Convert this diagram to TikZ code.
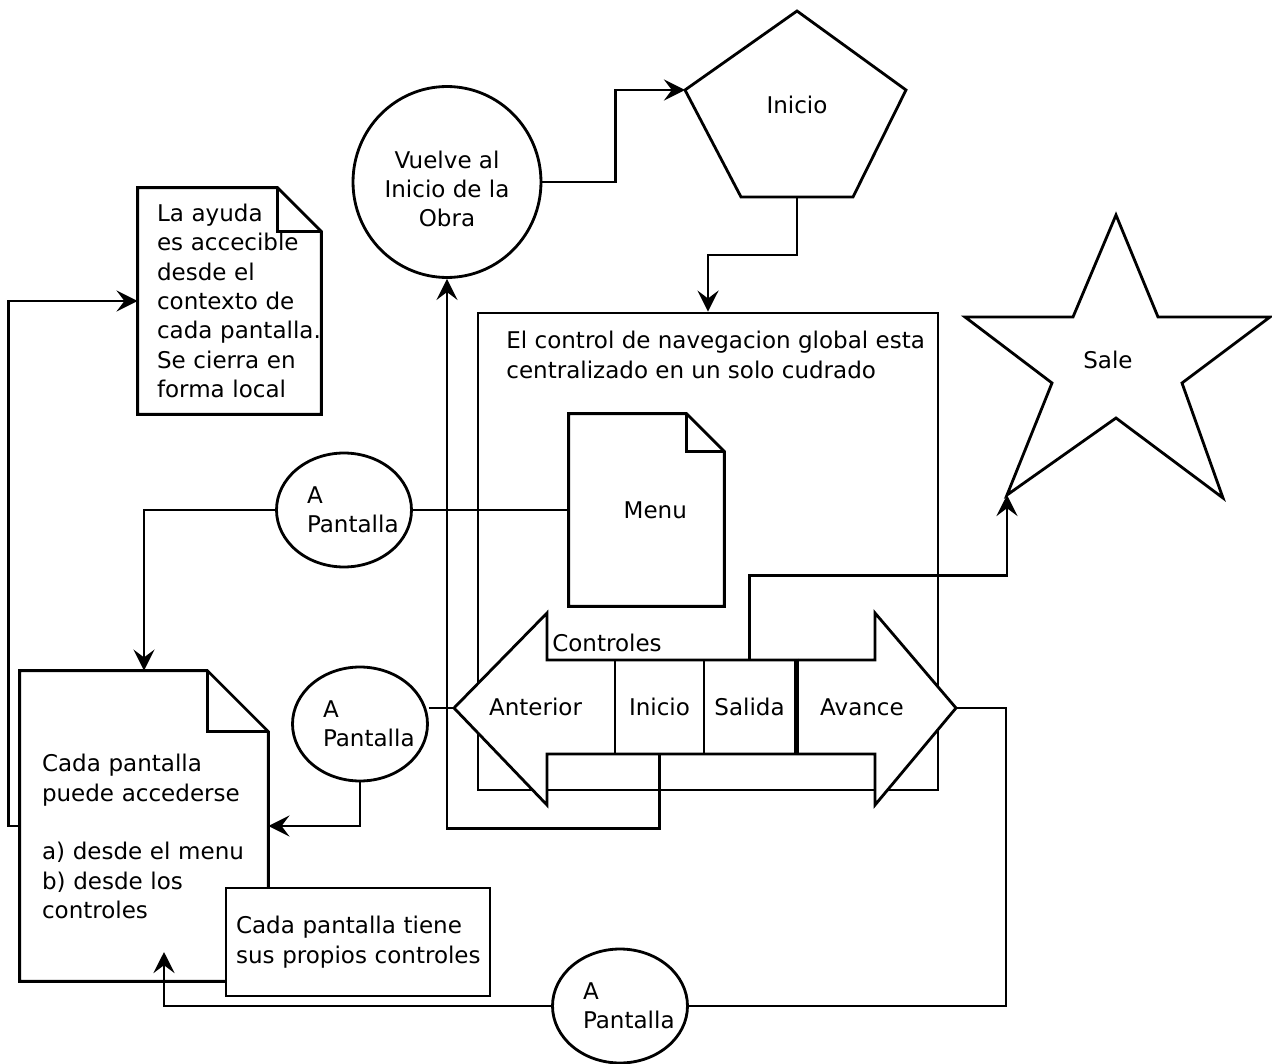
\documentclass[tikz,border=0pt]{standalone}
\usepackage{fontspec}
\setmainfont{DejaVu Sans}
\usetikzlibrary{positioning,calc,arrows.meta,shapes.geometric}
\hyphenpenalty=10000
\exhyphenpenalty=10000

% sheet with a folded corner, drawn round a node that is already placed
\newcommand{\dogear}[2]{%
  \draw (#1.north west) -- ($(#1.north east)+(-#2,0)$) -- ($(#1.north east)+(0,#2)$)
        -- (#1.south east) -- (#1.south west) -- cycle;
  \draw ($(#1.north east)+(-#2,0)$) |- ($(#1.north east)+(0,#2)$);
}
% text of the small "A Pantalla" ovals
\newcommand{\apant}{\hspace*{10pt}A\\\hspace*{10pt}Pantalla}

\begin{document}
\begin{tikzpicture}[x=0.02cm, y=-0.02cm, line width=1.6pt,
  >={Stealth[length=12pt,width=12pt,inset=4.5pt]},
  font=\fontsize{13.1}{16.7}\selectfont]

\tikzset{
  screen/.style={ellipse, draw, align=left, inner xsep=-12pt, inner ysep=0pt,
                 minimum width=2.7cm, minimum height=2.28cm},
  sheet/.style={rectangle, inner ysep=0pt, align=left},
  cell/.style={rectangle, draw, minimum height=1.88cm, inner sep=0pt},
}

\useasboundingbox (0,0) rectangle (1272,1064);

% -----------------------------------------
% top: back to the start
% -----------------------------------------
\node[ellipse, draw, align=center, inner sep=0pt,
      minimum width=3.76cm, minimum height=3.82cm] (vuelve) at (447,182)
  {\rule{0pt}{18pt}Vuelve al\\Inicio de la\\Obra};

\draw (797,11) -- (906,90) -- (853,197) -- (741,197)
  -- (685,90) coordinate (pL) -- cycle;
\coordinate (pB) at (797,197);
\node (inicio) at (797,105) {Inicio};

% star
\draw (1116,215) -- (1073,317) -- (965,317) -- (1052,383)
  -- (1007,495) coordinate (sBL) -- (1116,418) -- (1223,498)
  -- (1182,383) -- (1270,317) -- (1158,317) -- cycle;
\node (sale) at (1108,360) {Sale};

% -----------------------------------------
% global control box
% -----------------------------------------
\node[rectangle, draw, minimum width=9.2cm, minimum height=9.54cm] (ctrlbox) at (708,551.5) {};
\node[align=left, inner sep=0pt, anchor=north west] (boxtitle) at (505,330)
  {El control de navegacion global esta\\centralizado en un solo cudrado};

\node[sheet, minimum width=3.06cm, minimum height=3.8cm] (menu) at (646.5,510) {\hspace*{10pt}Menu};
\dogear{menu}{38}

% controls double arrow
\draw[fill=white] (454,708) coordinate (ctlL) -- (547,613) -- (547,660) -- (875,660)
  -- (875,613) -- (956,708) coordinate (ctlR) -- (875,805) -- (875,754)
  -- (547,754) -- (547,805) -- cycle;
\node[cell, minimum width=1.78cm] (cinicio) at (659.5,707) {Inicio};
\node[cell, minimum width=1.82cm] (salida) at (749.5,707) {Salida};
\draw[line width=2.4pt] (salida.north east) -- (salida.south east);
\node (anterior) at (535.5,707) {Anterior};
\node (avance) at (862,707) {Avance};
\node (controles) at (607,643) {Controles};

% -----------------------------------------
% left side: help and screens
% -----------------------------------------
\node[sheet, minimum width=3.62cm, minimum height=4.48cm, inner xsep=0.36cm,
      text width=2.9cm] (help) at (229.5,301)
  {La~ayuda\\es~accecible\\desde~el\\contexto~de\\cada~pantalla.\\Se~cierra~en\\forma~local};
\dogear{help}{44}

\node[sheet, minimum width=4.92cm, minimum height=6.16cm, inner xsep=0.42cm,
      text width=4.08cm] (doc) at (144,826)
  {\rule{0pt}{22pt}Cada~pantalla\\puede~accederse\\[16.7pt]a)~desde~el~menu\\b)~desde~los\\controles};
\dogear{doc}{61}
\coordinate (docin) at (164,952);

\node[rectangle, draw, fill=white, align=left, inner ysep=0pt, minimum width=5.28cm,
      minimum height=2.16cm, inner xsep=0.2cm, text width=4.88cm] (own) at (358,942)
  {Cada~pantalla~tiene\\sus~propios~controles};

\node[screen] (ap1) at (344,510) {\apant};
\node[screen] (ap2) at (360,724) {\apant};
\node[screen] (ap3) at (620,1006) {\apant};

% -----------------------------------------
% connectors
% -----------------------------------------
\draw[->] (vuelve.east) -- ++(73,0) |- (pL);
\draw[->] (pB) -- ++(0,58) -| (ctrlbox.north);
\draw (ap1.east) -- (menu.west);
\draw[->] (ap1.west) -| (doc.north);
\draw (ap2.east |- ctlL) -- (ctlL);
\draw[->] (ap2.south) |- (doc.east);
\draw[->] (doc.west) -- ++(-11,0) |- (help.west);
\draw[->] (cinicio.south) -- ++(0,73) -| (vuelve.south);
\draw[->] (salida.north) -- ++(0,-83) -| (sBL);
\draw (ctlR) -- ++(50,0) |- (ap3.east);
\draw[->] (ap3.west) -| (docin);
\end{tikzpicture}
\end{document}
